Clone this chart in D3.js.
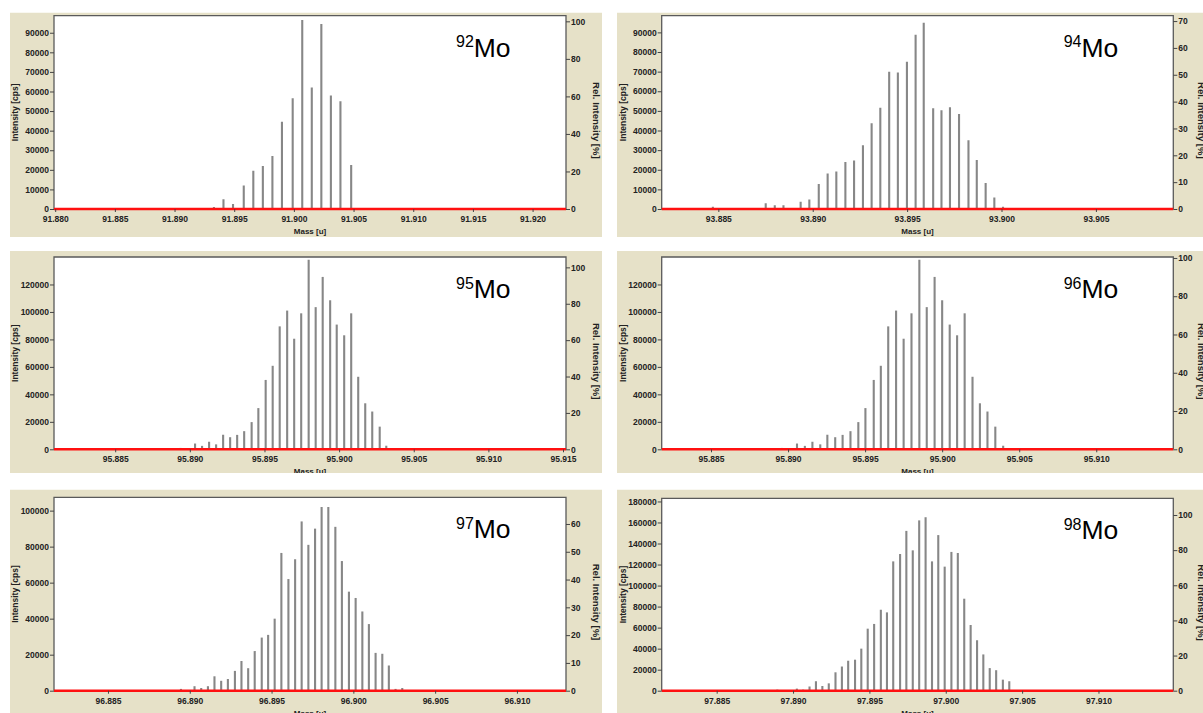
<!DOCTYPE html>
<html><head><meta charset="utf-8">
<script src="https://cdn.jsdelivr.net/npm/d3@7"></script>
<style>
html,body{margin:0;padding:0;background:#fff;}
svg{display:block;}
</style></head><body>
<svg id="c" width="1203" height="713"></svg>
<script>
// ---------------- DATA ----------------
const isotopes = ["92", "94", "95", "96", "97", "98"];

const mo92Mass = [91.8933, 91.8941, 91.8949, 91.8958, 91.8966, 91.8974, 91.8982, 91.8990, 91.8999, 91.9007, 91.9015, 91.9023, 91.9031, 91.9039, 91.9048];
const mo92Int  = [1000, 5000, 2500, 12000, 19500, 22000, 27000, 44500, 56500, 96500, 62000, 94500, 58000, 55000, 22500];

const mo94Mass = [93.88471, 93.88751, 93.88799, 93.88845, 93.88936, 93.88982, 93.89032, 93.89079, 93.89125, 93.89173, 93.89219, 93.89266, 93.89312, 93.89358, 93.89405, 93.89451, 93.89499, 93.89545, 93.89588, 93.89638, 93.89682, 93.89727, 93.89775, 93.89825, 93.89869, 93.89916, 93.89962, 93.90008];
const mo94Int  = [1200, 2900, 1900, 1900, 3700, 4900, 12700, 18100, 19100, 24000, 24700, 32500, 43700, 51600, 69900, 69500, 75000, 88800, 94900, 51400, 50300, 51800, 48400, 35000, 25000, 13200, 5800, 1200];

const mo95Mass = [95.88938, 95.89035, 95.89082, 95.89129, 95.89176, 95.89223, 95.89270, 95.89317, 95.89364, 95.89414, 95.89459, 95.89508, 95.89555, 95.89602, 95.89652, 95.89699, 95.89746, 95.89796, 95.89843, 95.89890, 95.89940, 95.89984, 95.90034, 95.90081, 95.90128, 95.90175, 95.90222, 95.90272, 95.90316];
const mo95Int  = [1000, 4200, 2500, 5500, 3600, 10600, 8800, 10500, 13200, 19800, 30000, 50500, 60800, 89500, 101000, 80500, 99000, 138000, 103500, 125500, 108500, 90800, 83000, 99000, 52800, 33500, 27500, 16500, 2600];

const mo96Mass = [95.88959, 95.89058, 95.89109, 95.89158, 95.89209, 95.89255, 95.89306, 95.89354, 95.89405, 95.89456, 95.89502, 95.89556, 95.89602, 95.89650, 95.89701, 95.89750, 95.89801, 95.89852, 95.89900, 95.89951, 95.90000, 95.90049, 95.90097, 95.90146, 95.90197, 95.90245, 95.90294, 95.90345, 95.90396];
const mo96Int  = [1000, 4200, 2500, 5500, 3600, 10600, 8800, 10500, 13200, 19800, 30000, 50500, 60800, 89500, 101000, 80500, 99000, 138000, 103500, 125500, 108500, 90800, 83000, 99000, 52800, 33500, 27500, 16500, 2600];

const mo97Mass = [96.88946, 96.89029, 96.89070, 96.89111, 96.89151, 96.89192, 96.89233, 96.89276, 96.89316, 96.89357, 96.89397, 96.89440, 96.89479, 96.89519, 96.89560, 96.89603, 96.89644, 96.89684, 96.89725, 96.89766, 96.89806, 96.89847, 96.89890, 96.89930, 96.89973, 96.90014, 96.90055, 96.90095, 96.90136, 96.90177, 96.90217, 96.90258, 96.90299];
const mo97Int  = [1000, 2500, 1500, 2500, 8000, 5500, 6500, 11000, 16500, 12500, 22000, 29500, 31000, 40000, 76500, 62000, 73000, 94000, 81000, 90000, 102000, 102000, 91000, 72000, 55000, 51500, 44000, 37000, 21000, 20500, 14000, 1000, 1500];

const mo98Mass = [97.88897, 97.89025, 97.89066, 97.89108, 97.89150, 97.89192, 97.89234, 97.89278, 97.89320, 97.89361, 97.89406, 97.89447, 97.89489, 97.89531, 97.89575, 97.89615, 97.89656, 97.89701, 97.89742, 97.89784, 97.89826, 97.89868, 97.89910, 97.89951, 97.89993, 97.90037, 97.90079, 97.90121, 97.90163, 97.90205, 97.90246, 97.90288, 97.90330, 97.90374, 97.90416];
const mo98Int  = [1000, 2000, 1000, 4000, 9000, 4500, 7000, 17500, 23000, 28500, 29500, 40000, 59000, 63500, 77000, 74500, 123000, 130000, 152000, 133500, 162000, 165000, 123000, 148000, 118000, 132000, 131000, 87500, 62500, 48000, 34500, 21500, 19500, 10500, 9000];

// axis domains (value space)
const massDomains = [[91.8799, 91.9228], [93.8820, 93.9091], [95.8809, 95.9152], [95.8818, 95.9150], [96.8817, 96.9130], [97.8814, 97.9149]];
const intDomains  = [[0, 98700], [0, 98500], [0, 140000], [0, 140000], [0, 107400], [0, 183000]];
const relDomains  = [[0, 103], [0, 72], [0, 105.7], [0, 100.5], [0, 69.6], [0, 109.5]];

// tick labels
const massTicks = [
  [91.880, 91.885, 91.890, 91.895, 91.900, 91.905, 91.910, 91.915, 91.920],
  [93.885, 93.890, 93.895, 93.900, 93.905],
  [95.885, 95.890, 95.895, 95.900, 95.905, 95.910, 95.915],
  [95.885, 95.890, 95.895, 95.900, 95.905, 95.910],
  [96.885, 96.890, 96.895, 96.900, 96.905, 96.910],
  [97.885, 97.890, 97.895, 97.900, 97.905, 97.910]
];
const intTicks = [
  [0, 10000, 20000, 30000, 40000, 50000, 60000, 70000, 80000, 90000],
  [0, 10000, 20000, 30000, 40000, 50000, 60000, 70000, 80000, 90000],
  [0, 20000, 40000, 60000, 80000, 100000, 120000],
  [0, 20000, 40000, 60000, 80000, 100000, 120000],
  [0, 20000, 40000, 60000, 80000, 100000],
  [0, 20000, 40000, 60000, 80000, 100000, 120000, 140000, 160000, 180000]
];
const relTicks = [
  [0, 20, 40, 60, 80, 100],
  [0, 10, 20, 30, 40, 50, 60, 70],
  [0, 20, 40, 60, 80, 100],
  [0, 20, 40, 60, 80, 100],
  [0, 10, 20, 30, 40, 50, 60],
  [0, 20, 40, 60, 80, 100]
];

const massSeries = [mo92Mass, mo94Mass, mo95Mass, mo96Mass, mo97Mass, mo98Mass];
const intSeries  = [mo92Int, mo94Int, mo95Int, mo96Int, mo97Int, mo98Int];

// ---------------- LAYOUT ----------------
const layouts = [
  {bx: 10,  by: 12.5,  bw: 592, bh: 224.5, px0: 54,    px1: 566,    py0: 15.7,  py1: 209,   rt: 27},
  {bx: 617, by: 12.5,  bw: 586, bh: 224.5, px0: 661.7, px1: 1173.3, py0: 15.7,  py1: 209,   rt: 25},
  {bx: 10,  by: 251,   bw: 592, bh: 222,   px0: 54,    px1: 566,    py0: 257,   py1: 449.3, rt: 27},
  {bx: 617, by: 251,   bw: 586, bh: 222,   px0: 661.7, px1: 1173.3, py0: 257,   py1: 449.3, rt: 25},
  {bx: 10,  by: 489.5, bw: 592, bh: 224,   px0: 54,    px1: 566,    py0: 497.3, py1: 690.7, rt: 27},
  {bx: 617, by: 489.5, bw: 586, bh: 224,   px0: 661.7, px1: 1173.3, py0: 498.3, py1: 690.7, rt: 25}
];

const FONT = '"Liberation Sans", Arial, Helvetica, sans-serif';
const BEIGE = "#e6e1c8";
const svg = d3.select("#c");
const defs = svg.append("defs");

function styleAxis(sel) {
  sel.select(".domain").remove();
  sel.selectAll(".tick line").attr("stroke", "#444").attr("stroke-width", 1);
  sel.selectAll(".tick text")
    .attr("font-family", FONT).attr("font-weight", "bold")
    .attr("font-size", "8.5px").attr("fill", "#222");
}

isotopes.forEach((iso, i) => {
  const L = layouts[i];
  const clipId = "clip" + i;
  defs.append("clipPath").attr("id", clipId)
    .append("rect").attr("x", L.bx).attr("y", L.by).attr("width", L.bw).attr("height", L.bh);

  const g = svg.append("g").attr("clip-path", `url(#${clipId})`);
  g.append("rect").attr("x", L.bx).attr("y", L.by).attr("width", L.bw).attr("height", L.bh).attr("fill", BEIGE);
  g.append("rect").attr("x", L.px0).attr("y", L.py0).attr("width", L.px1 - L.px0).attr("height", L.py1 - L.py0).attr("fill", "#fff");

  const x = d3.scaleLinear().domain(massDomains[i]).range([L.px0, L.px1]);
  const y = d3.scaleLinear().domain(intDomains[i]).range([L.py1, L.py0]);
  const r = d3.scaleLinear().domain(relDomains[i]).range([L.py1, L.py0]);

  // bars (stick spectrum)
  g.append("g").selectAll("line")
    .data(d3.zip(massSeries[i], intSeries[i]))
    .join("line")
    .attr("x1", d => x(d[0])).attr("x2", d => x(d[0]))
    .attr("y1", y(0)).attr("y2", d => y(d[1]))
    .attr("stroke", "#878787").attr("stroke-width", 2.1);

  // plot frame
  g.append("path")
    .attr("d", `M${L.px0},${L.py1}V${L.py0}H${L.px1}V${L.py1}`)
    .attr("fill", "none").attr("stroke", "#5a5a5a").attr("stroke-width", 1.3);

  // red baseline
  g.append("line").attr("x1", L.px0).attr("x2", L.px1).attr("y1", y(0)).attr("y2", y(0))
    .attr("stroke", "#ff1010").attr("stroke-width", 2.6);

  // axes
  g.append("g").attr("transform", `translate(${L.px0},0)`)
    .call(d3.axisLeft(y).tickValues(intTicks[i]).tickSize(4).tickPadding(1).tickFormat(d3.format("d")))
    .call(styleAxis);
  g.append("g").attr("transform", `translate(${L.px1},0)`)
    .call(d3.axisRight(r).tickValues(relTicks[i]).tickSize(4).tickPadding(1).tickFormat(d3.format("d")))
    .call(styleAxis);
  g.append("g").attr("transform", `translate(0,${L.py1})`)
    .call(d3.axisBottom(x).tickValues(massTicks[i]).tickSize(3).tickPadding(4).tickFormat(d3.format(".3f")))
    .call(styleAxis);

  // axis titles
  const midY = (L.py0 + L.py1) / 2;
  g.append("text")
    .attr("transform", `translate(${L.px0 - 36},${midY}) rotate(-90)`)
    .attr("text-anchor", "middle")
    .attr("font-family", FONT).attr("font-weight", "bold").attr("font-size", "8.5px").attr("fill", "#222")
    .text("Intensity [cps]");
  g.append("text")
    .attr("transform", `translate(${L.px1 + L.rt},${midY + 8}) rotate(90)`)
    .attr("text-anchor", "middle")
    .attr("font-family", FONT).attr("font-weight", "bold").attr("font-size", "9.5px").attr("fill", "#222")
    .text("Rel. Intensity [%]");
  g.append("text")
    .attr("x", (L.px0 + L.px1) / 2).attr("y", L.py1 + 25)
    .attr("text-anchor", "middle")
    .attr("font-family", FONT).attr("font-weight", "bold").attr("font-size", "8px").attr("fill", "#222")
    .text("Mass [u]");

  // isotope label
  const lab = g.append("text")
    .attr("x", L.px0 + 402).attr("y", L.py0 + 41)
    .attr("font-family", FONT).attr("fill", "#000");
  lab.append("tspan").attr("font-size", "16px").attr("dy", "-9.5").text(iso);
  lab.append("tspan").attr("font-size", "26.5px").attr("dy", "9.5").text("Mo");
});
</script>
</body></html>
